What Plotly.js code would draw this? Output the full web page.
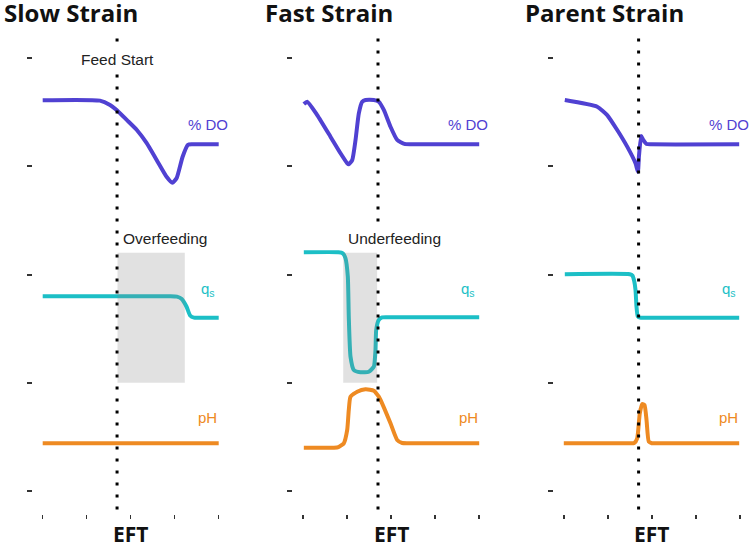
<!DOCTYPE html>
<html>
<head>
<meta charset="utf-8">
<script src="https://cdn.plot.ly/plotly-3.0.1.min.js"></script>
<style>html,body{margin:0;padding:0;background:#fff;}#chart{width:749px;height:543px;}</style>
</head>
<body>
<div id="chart"></div>
<script>
// ---------- data ----------
const panelTitles = ["Slow Strain", "Fast Strain", "Parent Strain"];
const xTickVals = [0, 1, 2, 3, 4];
const xTickText = ["", "", "EFT", "", ""];
const yTickVals = [0, 1, 2, 3, 4];
const feedStartX = [1.69, 1.70, 1.70];
const feedStartLabel = "Feed Start";

// shaded feeding windows: [x0, x1, y0, y1]
const slowWindow = [1.70, 3.23, 1.0, 2.2];
const fastWindow = [0.91, 1.68, 1.0, 2.2];
const windowLabels = ["Overfeeding", "Underfeeding"];

// Slow strain
const slowDOx = [0, 1.30, 1.53, 1.68, 1.91, 2.14, 2.36, 2.59, 2.82, 2.945, 3.045, 3.18, 3.30, 3.40, 4.0];
const slowDOy = [3.61, 3.606, 3.566, 3.52, 3.428, 3.335, 3.215, 3.058, 2.90, 2.848, 2.891, 3.088, 3.198, 3.203, 3.203];
const slowQSx = [0, 2.90, 3.05, 3.16, 3.27, 3.35, 3.44, 3.55, 4.0];
const slowQSy = [1.799, 1.799, 1.795, 1.774, 1.702, 1.621, 1.601, 1.600, 1.600];
const slowPHx = [0, 4.0];
const slowPHy = [0.441, 0.441];

// Fast strain
const fastDOx = [0.014, 0.091, 0.318, 0.620, 0.848, 1.0, 1.036, 1.114, 1.189, 1.264, 1.341, 1.416, 1.605, 1.718, 1.832, 1.984, 2.136, 2.30, 2.45, 4.0];
const fastDOy = [3.575, 3.596, 3.473, 3.273, 3.120, 3.028, 3.019, 3.057, 3.242, 3.489, 3.596, 3.612, 3.612, 3.596, 3.520, 3.365, 3.243, 3.206, 3.203, 3.203];
const fastQSx = [0.014, 0.80, 0.90, 0.961, 1.014, 1.036, 1.075, 1.150, 1.302, 1.491, 1.605, 1.643, 1.659, 1.718, 1.795, 1.90, 4.0];
const fastQSy = [2.205, 2.205, 2.195, 2.150, 1.980, 1.610, 1.241, 1.118, 1.097, 1.102, 1.148, 1.303, 1.487, 1.580, 1.603, 1.605, 1.605];
const fastPHx = [0.014, 0.70, 0.80, 0.923, 1.0, 1.036, 1.075, 1.227, 1.416, 1.605, 1.718, 1.757, 1.984, 2.136, 2.25, 2.40, 4.0];
const fastPHy = [0.400, 0.400, 0.405, 0.441, 0.564, 0.748, 0.871, 0.917, 0.939, 0.927, 0.871, 0.841, 0.625, 0.471, 0.443, 0.441, 0.441];

// Parent strain
const parentDOx = [0.023, 0.759, 0.986, 1.214, 1.441, 1.630, 1.684, 1.707, 1.759, 1.805, 1.880, 1.98, 3.986];
const parentDOy = [3.612, 3.550, 3.473, 3.335, 3.181, 3.027, 2.950, 3.088, 3.279, 3.243, 3.206, 3.203, 3.203];
const parentQSx = [0.023, 1.50, 1.560, 1.600, 1.630, 1.652, 1.680, 1.730, 1.80, 3.986];
const parentQSy = [2.002, 2.002, 1.990, 1.940, 1.857, 1.703, 1.615, 1.601, 1.601, 1.601];
const parentPHx = [0, 1.50, 1.60, 1.668, 1.727, 1.782, 1.834, 1.880, 1.932, 2.0, 2.10, 3.986];
const parentPHy = [0.441, 0.441, 0.443, 0.487, 0.718, 0.804, 0.794, 0.656, 0.455, 0.441, 0.441, 0.441];

const seriesNames = ["% DO", "q<sub>s</sub>", "pH"];
const seriesColors = ["#5041D2", "#1CBFC6", "#EE8A22"];
const labelX = 3.75;
const labelY = [3.39, 1.86, 0.68];

// ---------- build ----------
const panels = [
  [[slowDOx, slowDOy], [slowQSx, slowQSy], [slowPHx, slowPHy]],
  [[fastDOx, fastDOy], [fastQSx, fastQSy], [fastPHx, fastPHy]],
  [[parentDOx, parentDOy], [parentQSx, parentQSy], [parentPHx, parentPHy]]
];

const W = 749;
const leftPx = [32.5, 293.0, 553.6];
const panelWpx = 194.2;
const xRange = [-0.2318, 4.1818];
const yRange = [-0.2125, 4.2587];

const traces = [];
const shapes = [];
const annotations = [];
const layout = {
  width: 749, height: 543,
  margin: {l: 0, r: 0, t: 30, b: 29},
  paper_bgcolor: "#fff", plot_bgcolor: "#fff",
  showlegend: false,
  font: {family: "Liberation Sans, Arial, sans-serif", color: "#222"}
};

panels.forEach((series, i) => {
  const xa = i === 0 ? "x" : "x" + (i + 1);
  const ya = i === 0 ? "y" : "y" + (i + 1);
  const xk = i === 0 ? "xaxis" : "xaxis" + (i + 1);
  const yk = i === 0 ? "yaxis" : "yaxis" + (i + 1);
  layout[xk] = {
    domain: [leftPx[i] / W, (leftPx[i] + panelWpx) / W],
    range: xRange, anchor: ya,
    tickvals: xTickVals, showticklabels: false,
    ticks: "outside", ticklen: 4, tickwidth: 1.5, tickcolor: "#333",
    showgrid: false, zeroline: false, showline: false, fixedrange: true
  };
  layout[yk] = {
    domain: [0, 1], range: yRange, anchor: xa,
    tickvals: yTickVals, showticklabels: false,
    ticks: "outside", ticklen: 5, tickwidth: 2, tickcolor: "#333",
    showgrid: false, zeroline: false, showline: false, fixedrange: true
  };
  series.forEach((s, k) => {
    traces.push({
      x: s[0], y: s[1], xaxis: xa, yaxis: ya, type: "scatter", mode: "lines",
      line: {color: seriesColors[k], width: 4, shape: "spline", smoothing: 0.5},
      hoverinfo: "skip"
    });
    annotations.push({
      xref: xa, yref: ya, x: labelX, y: labelY[k], text: seriesNames[k],
      showarrow: false, xanchor: "center", yanchor: "middle",
      font: {family: "Liberation Sans, Arial, sans-serif", size: 15, color: seriesColors[k]}
    });
  });
  // feed start dotted line
  shapes.push({
    type: "line", xref: xa, yref: ya,
    x0: feedStartX[i], x1: feedStartX[i], y0: 4.18, y1: -0.19,
    line: {color: "#000", width: 3, dash: "3px,9px"}, layer: "above"
  });
  // panel title
  annotations.push({
    xref: "paper", yref: "paper",
    x: [2, 262.5, 523][i] / W, y: 1.037, xanchor: "left", yanchor: "middle",
    text: "<b>" + panelTitles[i] + "</b>", showarrow: false,
    font: {family: "Open Sans, Noto Sans, sans-serif", size: 24, color: "#111"}
  });
  // EFT label
  annotations.push({
    xref: xa, yref: "paper", x: xTickVals[2], y: -0.0413,
    xanchor: "center", yanchor: "middle",
    text: "<b>" + xTickText[2] + "</b>", showarrow: false,
    font: {family: "Open Sans, Noto Sans, sans-serif", size: 21, color: "#111"}
  });
});

// shaded windows
[[slowWindow, "x", "y"], [fastWindow, "x2", "y2"]].forEach(w => {
  const r = w[0];
  shapes.push({
    type: "rect", xref: w[1], yref: w[2], x0: r[0], x1: r[1], y0: r[2], y1: r[3],
    fillcolor: "rgba(128,128,128,0.24)", line: {width: 0}, layer: "above"
  });
});
annotations.push({
  xref: "x", yref: "y", x: 2.78, y: 2.33, text: windowLabels[0], showarrow: false,
  xanchor: "center", yanchor: "middle",
  font: {family: "Liberation Sans, Arial, sans-serif", size: 15.5, color: "#222"}
});
annotations.push({
  xref: "x2", yref: "y2", x: 2.075, y: 2.33, text: windowLabels[1], showarrow: false,
  xanchor: "center", yanchor: "middle", bgcolor: "#fff",
  font: {family: "Liberation Sans, Arial, sans-serif", size: 15.5, color: "#222"}
});
annotations.push({
  xref: "x", yref: "y", x: feedStartX[0], y: 3.99, text: feedStartLabel, showarrow: false,
  xanchor: "center", yanchor: "middle", bgcolor: "#fff",
  font: {family: "Liberation Sans, Arial, sans-serif", size: 15.5, color: "#222"}
});

layout.shapes = shapes;
layout.annotations = annotations;

Plotly.newPlot("chart", traces, layout, {displayModeBar: false, staticPlot: true});
</script>
</body>
</html>
